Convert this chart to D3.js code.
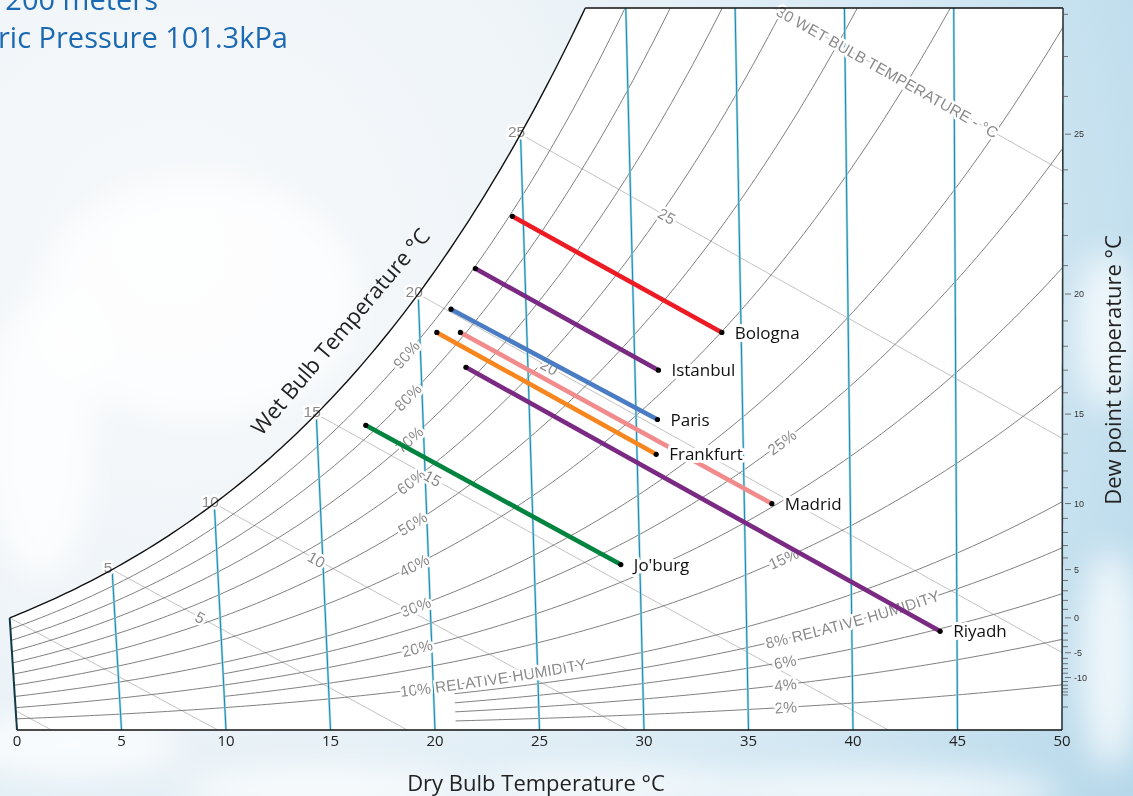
<!DOCTYPE html>
<html>
<head>
<meta charset="utf-8">
<script src="https://cdn.jsdelivr.net/npm/d3@7"></script>
<style>
body { margin: 0; }
svg { display: block; }
</style>
</head>
<body>
<div id="chart"></div>
<script>
// ---- chart values ----
const dryBulbTicks = [0, 5, 10, 15, 20, 25, 30, 35, 40, 45, 50]
const isotherms = [5, 10, 15, 20, 25, 30, 35, 40, 45]
const satLabels = [5, 10, 15, 20, 25]
const wetBulbLines = [-5, 0, 5, 10, 15, 20, 25, 30]
const wetBulbLabels = [5, 10, 15, 20, 25]
const rhMain = [10, 20, 30, 40, 50, 60, 70, 80, 90]
const rhFromTen = [15, 25]
const rhLow = [2, 4, 6, 8]
const dewMajor = [-10, -5, 0, 5, 10, 15, 20, 25]
const dewMinor = [-20, -15, -14, -13, -12, -11, -10, -9, -8, -7, -6, -5, -4, -3, -2, -1, 0, 1, 2, 3, 4, 5, 6, 7, 8, 9, 10,
	11, 12, 13, 14, 15, 16, 17, 18, 19, 20, 21, 22, 23, 24, 25, 26, 27, 28]

// design lines: dry bulb (°C) and humidity ratio (g/kg) at both ends
const cities = ['Bologna', 'Istanbul', 'Paris', 'Frankfurt', 'Madrid', 'Riyadh', "Jo'burg"]
const startDB = [24.5, 22.7, 21.5, 20.8, 21.9, 22.1, 17.3]
const startW = [17.7, 15.9, 14.5, 13.7, 13.7, 12.5, 10.5]
const endDB = [34.1, 31.1, 31.0, 30.9, 36.3, 44.2, 29.1]
const endW = [13.7, 12.4, 10.7, 9.5, 7.8, 3.4, 5.7]
const cityColors = ['#ed1c24', '#7b2a84', '#4a7cc3', '#f7861f', '#f28b8c', '#7b2a84', '#00843f']

// ---- psychrometrics (200 m altitude) ----
const P = 101.325 * Math.pow(1 - 2.25577e-5 * 200, 5.2559)
const pws = t => 0.61094 * Math.exp(17.625 * t / (t + 243.04))
const wFromPw = pw => 0.622 * pw / (P - pw)
const wSat = t => wFromPw(pws(t))
const wRH = (t, rh) => wFromPw(rh / 100 * pws(t))
const wWet = (t, twb) => ((2501 - 2.326 * twb) * wSat(twb) - 1.006 * (t - twb)) / (2501 + 1.86 * t - 4.186 * twb)
const skew = (t, w) => 1.006 * t + w * (1.86 * t - 91)
const wTop = 0.02488

function solve(f, lo, hi) {
	for (let i = 0; i < 60; i++) {
		const m = (lo + hi) / 2
		if (f(lo) * f(m) <= 0) hi = m
		else lo = m
	}
	return (lo + hi) / 2
}

const W = 1133, H = 796
const x = d3.scaleLinear().domain([0, 50.3]).range([17, 1062])
const y = d3.scaleLinear().domain([0, wTop]).range([730, 8])
const px = (t, w) => [x(skew(t, w)), y(w)]
const line = d3.line().x(d => px(d[0], d[1])[0]).y(d => px(d[0], d[1])[1])

function pts(f, t0, t1) {
	return d3.range(t0, t1, 0.25).concat([t1]).map(t => [t, f(t)])
}

const svg = d3.select('#chart').append('svg')
	.attr('width', W).attr('height', H)
	.attr('viewBox', [0, 0, W, H])
const defs = svg.append('defs')

// ---- sky background ----
const sky = defs.append('radialGradient').attr('id', 'sky')
	.attr('gradientUnits', 'userSpaceOnUse')
	.attr('cx', 170).attr('cy', 250).attr('r', 1100)
sky.append('stop').attr('offset', 0).attr('stop-color', '#f7f9fb')
sky.append('stop').attr('offset', 0.38).attr('stop-color', '#eef4f8')
sky.append('stop').attr('offset', 0.72).attr('stop-color', '#d4e8f3')
sky.append('stop').attr('offset', 1).attr('stop-color', '#b6d8ea')
defs.append('filter').attr('id', 'blur').attr('x', '-50%').attr('y', '-50%').attr('width', '200%').attr('height', '200%')
	.append('feGaussianBlur').attr('stdDeviation', 16)

svg.append('rect').attr('width', W).attr('height', H).attr('fill', 'url(#sky)')
const cloudG = svg.append('g').attr('filter', 'url(#blur)').attr('fill', 'white')
;[[70, 745, 110, 30], [330, 790, 150, 22], [610, 788, 130, 20], [880, 792, 180, 22], [1110, 660, 30, 110],
	[1105, 330, 28, 80], [40, 440, 55, 140], [200, 300, 160, 120]]
	.forEach(c => cloudG.append('ellipse').attr('cx', c[0]).attr('cy', c[1]).attr('rx', c[2]).attr('ry', c[3]).attr('opacity', 0.75))

// ---- chart outline ----
const tTop = solve(t => wSat(t) - wTop, 20, 35)
const satCurve = pts(wSat, 0, tTop)
const outline = satCurve.concat([[50, wTop], [50, 0], [0, 0]])
const outlineD = line(outline) + 'Z'

defs.append('clipPath').attr('id', 'plot').append('path').attr('d', outlineD)
svg.append('path').attr('d', outlineD).attr('fill', 'white')

const grid = svg.append('g').attr('clip-path', 'url(#plot)').attr('fill', 'none')

// wet bulb lines
const wbData = wetBulbLines.map(twb => {
	const t0 = wSat(twb) > wTop ? solve(t => wWet(t, twb) - wTop, twb, 50) : twb
	const t1 = Math.min(50, solve(t => wWet(t, twb), twb, 80))
	return { twb, t0, t1, f: t => wWet(t, twb) }
})
grid.selectAll('.wb').data(wbData).join('path')
	.attr('class', 'wb')
	.attr('d', d => line(pts(d.f, d.t0, d.t1)))
	.attr('stroke', '#c2c2c2')
	.attr('stroke-width', 1)

// relative humidity curves
const rhData = rhMain.map(rh => ({ rh, t0: 0 }))
	.concat(rhFromTen.map(rh => ({ rh, t0: 10 })))
	.concat(rhLow.map(rh => ({ rh, t0: 21 })))
rhData.forEach(d => { d.f = t => wRH(t, d.rh) })
grid.selectAll('.rh').data(rhData).join('path')
	.attr('class', 'rh')
	.attr('d', d => line(pts(d.f, d.t0, 50)))
	.attr('stroke', '#707070')
	.attr('stroke-width', 0.9)

// dry bulb isotherms
const isoTop = t => Math.min(wSat(t), wTop)
const iso = grid.selectAll('.iso').data(isotherms).join('g').attr('class', 'iso')
iso.append('line')
	.attr('x1', t => px(t, 0)[0]).attr('y1', t => px(t, 0)[1])
	.attr('x2', t => px(t, isoTop(t))[0]).attr('y2', t => px(t, isoTop(t))[1])
	.attr('stroke', '#a8d7e7').attr('stroke-width', 2.4)
iso.append('line')
	.attr('x1', t => px(t, 0)[0]).attr('y1', t => px(t, 0)[1])
	.attr('x2', t => px(t, isoTop(t))[0]).attr('y2', t => px(t, isoTop(t))[1])
	.attr('stroke', '#168aaf').attr('stroke-width', 1)

// ---- grid labels (text along short local guide paths) ----
function halo(sel, w) {
	sel.attr('stroke', 'white').attr('stroke-width', w).attr('stroke-linejoin', 'round').attr('paint-order', 'stroke')
}
const gridFont = '"Liberation Sans", Arial, sans-serif'
const labels = svg.append('g')
	.attr('font-family', gridFont)
	.attr('font-size', 15.5)
	.attr('fill', '#8a8a8a')

let guideId = 0
function pathText(f, t0, t1, txt, anchor) {
	const id = 'guide' + (guideId++)
	defs.append('path').attr('id', id).attr('d', line(pts(f, t0, t1)))
	labels.append('text')
		.attr('dy', '0.36em')
		.call(halo, 5)
		.append('textPath')
		.attr('href', '#' + id)
		.attr('startOffset', anchor === 'middle' ? '50%' : 0)
		.attr('text-anchor', anchor)
		.text(txt)
}

rhData.forEach(d => {
	if (d.rh === 10) pathText(d.f, 18.4, 30, '10% RELATIVE HUMIDITY', 'start')
	else if (d.rh === 8) pathText(d.f, 35.9, 48, '8% RELATIVE HUMIDITY', 'start')
	else if (d.rh >= 20 && d.rh % 10 === 0) pathText(d.f, 17.8, 20.8, d.rh + '%', 'middle')
	else pathText(d.f, 35.3, 38.3, d.rh + '%', 'middle')
})

wbData.filter(d => wetBulbLabels.includes(d.twb)).forEach(d => {
	const tl = d.twb + 3.4 + 0.13 * d.twb
	pathText(d.f, tl - 1.5, tl + 1.5, String(d.twb), 'middle')
})
const wb30 = wbData.find(d => d.twb === 30)
pathText(wb30.f, wb30.t0 + 0.15, wb30.t1, '30 WET BULB TEMPERATURE - °C', 'start')

// saturation temperature labels
labels.selectAll('.sat').data(satLabels).join('text')
	.attr('class', 'sat')
	.attr('x', t => px(t, wSat(t))[0] - 4)
	.attr('y', t => px(t, wSat(t))[1] + 3)
	.attr('text-anchor', 'middle')
	.text(t => t)
	.call(halo, 5)

// ---- border ----
const border = svg.append('g').attr('fill', 'none').attr('stroke', '#111').attr('stroke-width', 1.4)
border.append('path').attr('d', line(satCurve))
border.append('path').attr('d', line([[tTop, wTop], [50, wTop]]))
border.append('path').attr('d', line([[50, wTop], [50, 0]])).attr('stroke', '#2b3a40').attr('stroke-width', 1.6)
border.append('path').attr('d', line([[50, 0], [0, 0]]))
border.append('path').attr('d', line([[0, 0], [0, wSat(0)]])).attr('stroke', '#123a44').attr('stroke-width', 2)

// ---- dew point axis ----
const xr = px(50, 0)[0] + 1
const dew = svg.append('g').attr('stroke', '#555').attr('stroke-width', 0.8)
dew.selectAll('line').data(dewMinor.filter(d => !dewMajor.includes(d) && wSat(d) < wTop)).join('line')
	.attr('x1', xr).attr('x2', xr + 5)
	.attr('y1', d => y(wSat(d))).attr('y2', d => y(wSat(d)))
const dewMaj = svg.append('g').attr('font-family', gridFont).attr('font-size', 9).attr('fill', '#333')
dewMaj.selectAll('line').data(dewMajor).join('line')
	.attr('x1', xr + 2).attr('x2', xr + 8)
	.attr('y1', d => y(wSat(d))).attr('y2', d => y(wSat(d)))
	.attr('stroke', '#555').attr('stroke-width', 0.8)
dewMaj.selectAll('text').data(dewMajor).join('text')
	.attr('x', xr + 11)
	.attr('y', d => y(wSat(d)))
	.attr('dy', '0.35em')
	.text(d => d)

// ---- city lines ----
const cityData = cities.map((name, i) => ({
	name,
	s: px(startDB[i], startW[i] / 1000),
	e: px(endDB[i], endW[i] / 1000),
	color: cityColors[i]
}))
const cg = svg.append('g')
cg.selectAll('line').data(cityData).join('line')
	.attr('x1', d => d.s[0]).attr('y1', d => d.s[1])
	.attr('x2', d => d.e[0]).attr('y2', d => d.e[1])
	.attr('stroke', d => d.color)
	.attr('stroke-width', 4.6)
cg.selectAll('.dot0').data(cityData).join('circle')
	.attr('cx', d => d.s[0]).attr('cy', d => d.s[1]).attr('r', 2.6).attr('fill', '#000')
cg.selectAll('.dot1').data(cityData).join('circle')
	.attr('cx', d => d.e[0]).attr('cy', d => d.e[1]).attr('r', 2.6).attr('fill', '#000')
svg.append('g')
	.attr('font-family', '"Open Sans", sans-serif')
	.attr('font-size', 17)
	.attr('fill', '#111')
	.selectAll('text').data(cityData).join('text')
	.attr('x', d => d.e[0] + 13)
	.attr('y', d => d.e[1])
	.attr('dy', '0.36em')
	.text(d => d.name)
	.call(halo, 6)

// ---- axes text ----
const axisFont = '"Open Sans", sans-serif'
svg.append('g')
	.attr('font-family', axisFont).attr('font-size', 15).attr('fill', '#222')
	.attr('text-anchor', 'middle')
	.selectAll('text').data(dryBulbTicks).join('text')
	.attr('x', t => px(t, 0)[0])
	.attr('y', 746)
	.text(t => t)

svg.append('text')
	.attr('x', 536).attr('y', 791)
	.attr('text-anchor', 'middle')
	.attr('font-family', axisFont).attr('font-size', 22).attr('fill', '#222')
	.text('Dry Bulb Temperature °C')

svg.append('text')
	.attr('transform', 'translate(1121,370) rotate(-90)')
	.attr('text-anchor', 'middle')
	.attr('font-family', axisFont).attr('font-size', 22).attr('fill', '#222')
	.text('Dew point temperature °C')

const tw = 17.6
const a = px(tw - 0.2, wSat(tw - 0.2)), b = px(tw + 0.2, wSat(tw + 0.2))
const ang = Math.atan2(b[1] - a[1], b[0] - a[0]) * 180 / Math.PI
const c0 = px(tw, wSat(tw))
svg.append('text')
	.attr('transform', `translate(${c0[0]},${c0[1]}) rotate(${ang})`)
	.attr('dy', -30)
	.attr('text-anchor', 'middle')
	.attr('font-family', axisFont).attr('font-size', 22).attr('fill', '#222')
	.text('Wet Bulb Temperature °C')

// ---- title ----
const title = svg.append('g')
	.attr('font-family', axisFont).attr('font-size', 29).attr('fill', '#1a69b2')
	.attr('text-anchor', 'end')
title.append('text').attr('x', 158).attr('y', 10).text('Altitude 200 meters')
title.append('text').attr('x', 288).attr('y', 48).text('Barometric Pressure 101.3kPa')
</script>
</body>
</html>
